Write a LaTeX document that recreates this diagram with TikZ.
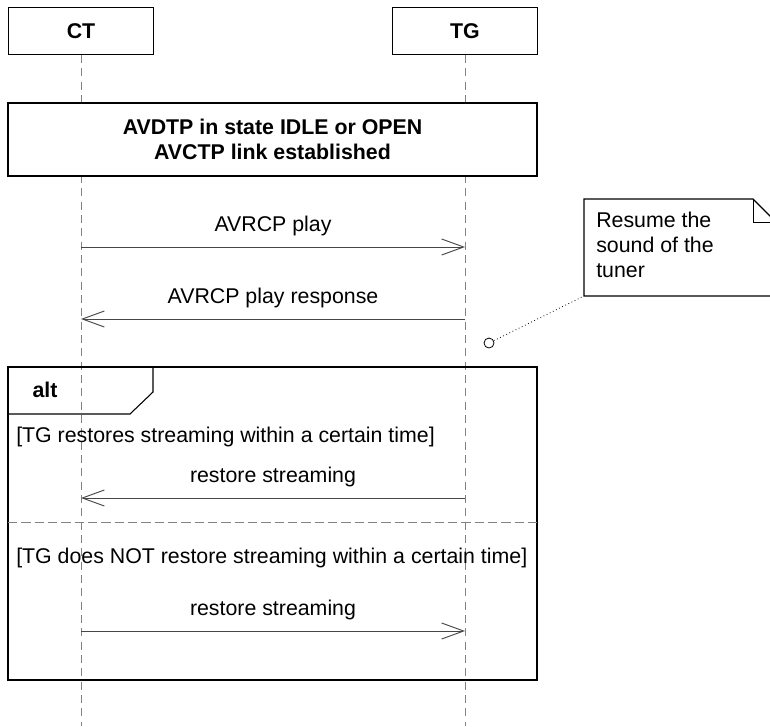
\documentclass[tikz,border=0pt]{standalone}
\usepackage{fontspec}
\setmainfont{Liberation Sans}
\usetikzlibrary{arrows.meta,positioning}
\definecolor{lifegray}{RGB}{130,130,130}
\definecolor{msggray}{RGB}{70,70,70}

\begin{document}
\begin{tikzpicture}[x=0.75pt, y=-0.75pt,
    font=\fontsize{16}{18.75}\selectfont,
    lifebox/.style={draw, line width=0.8pt, minimum width=108.75pt,
      minimum height=35pt, font=\fontsize{16}{18.75}\selectfont\bfseries},
    statebox/.style={draw, line width=0.8pt, minimum width=396.75pt,
      minimum height=54.75pt, align=center,
      font=\fontsize{16}{18.75}\selectfont\bfseries},
    lifeline/.style={lifegray, line width=0.6pt, dash pattern=on 6pt off 4pt},
    msg/.style={msggray, line width=0.7pt,
      -{Straight Barb[length=16.5pt,width=12pt]}},
    msglabel/.style={above, yshift=5pt, text=black},
    guard/.style={anchor=west, inner sep=0pt}]
  \clip (0,0) rectangle (770,726);
  % lifeline heads
  \node[lifebox] (CT) at (81,31) {CT};
  \node[lifebox] (TG) at (465,31) {TG};
  \coordinate (CTend) at (81,726);
  \coordinate (TGend) at (465,726);
  \draw[lifeline] (CT.south) -- (CTend);
  \draw[lifeline] (TG.south) -- (TGend);
  % precondition
  \node[statebox, fill=white] (state) at (272.5,139.5)
    {AVDTP in state IDLE or OPEN\\AVCTP link established};
  % messages
  \coordinate (ct1) at (81,247);   \coordinate (tg1) at (465,247);
  \coordinate (ct2) at (81,319);   \coordinate (tg2) at (465,319);
  \coordinate (ct3) at (81,498);   \coordinate (tg3) at (465,498);
  \coordinate (ct4) at (81,631);   \coordinate (tg4) at (465,631);
  \draw[msg] (ct1) -- (tg1) node[midway, msglabel] {AVRCP play};
  \draw[msg] (tg2) -- (ct2) node[midway, msglabel] {AVRCP play response};
  % note
  \draw[line width=0.8pt] (584,199) -- (753,199) -- (776,222)
    -- (776,296) -- (584,296) -- cycle;
  \draw[line width=0.6pt] (753,199) -- (753,222) -- (776,222);
  \node[anchor=north west, align=left, inner sep=0pt] (notetext) at (596,212)
    {Resume the\\sound of the\\tuner};
  \coordinate (noteSW) at (584,296);
  \node[circle, draw, line width=0.6pt, minimum size=7.5pt, inner sep=0pt]
    (anchorpt) at (489,343) {};
  \draw[dotted, line width=0.6pt] (anchorpt) -- (noteSW);
  % alt fragment
  \draw[line width=0.8pt] (8,367) rectangle (537,680);
  \draw[line width=0.8pt] (8,414) -- (130,414) -- (153,392) -- (153,367);
  \node[font=\fontsize{16}{18.75}\selectfont\bfseries] (alt) at (45,390) {alt};
  \node[guard] (guard1) at (16,437)
    {[TG restores streaming within a certain time]};
  \draw[msg] (tg3) -- (ct3) node[midway, msglabel] {restore streaming};
  \draw[lifegray, line width=0.6pt, dash pattern=on 7pt off 3pt]
    (8,522) -- (537,522);
  \node[guard] (guard2) at (16,558)
    {[TG does NOT restore streaming within a certain time]};
  \draw[msg] (ct4) -- (tg4) node[midway, msglabel] {restore streaming};
\end{tikzpicture}
\end{document}
